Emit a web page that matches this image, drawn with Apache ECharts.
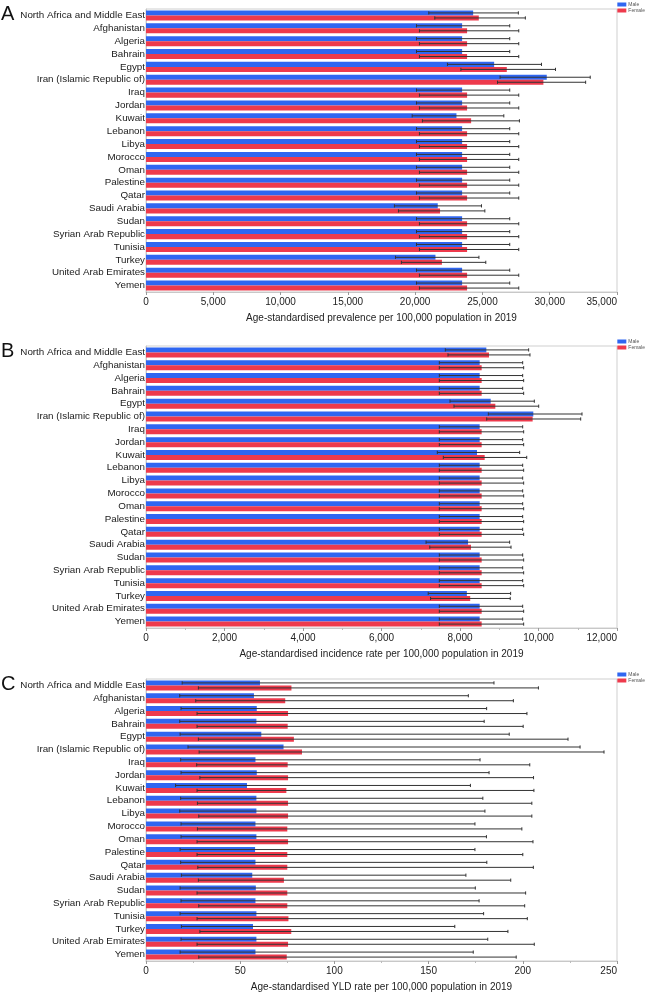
<!DOCTYPE html>
<html>
<head>
<meta charset="utf-8">
<script src="https://cdn.jsdelivr.net/npm/echarts@6/dist/echarts.min.js"></script>
<style>
html,body{margin:0;padding:0;background:#fff;}
#c{width:646px;height:993px;}
</style>
</head>
<body>
<div id="c"></div>
<script>
const categories = ["North Africa and Middle East","Afghanistan","Algeria","Bahrain","Egypt","Iran (Islamic Republic of)","Iraq","Jordan","Kuwait","Lebanon","Libya","Morocco","Oman","Palestine","Qatar","Saudi Arabia","Sudan","Syrian Arab Republic","Tunisia","Turkey","United Arab Emirates","Yemen"];

// Panel A: prevalence
const prevMale   = [24310,23490,23490,23490,25870,29780,23490,23490,23070,23490,23490,23490,23490,23490,23490,21680,23490,23490,23490,21510,23490,23490];
const prevMaleLo = [21015,20100,20100,20100,22400,26310,20100,20100,19780,20100,20100,20100,20100,20100,20100,18460,20100,20100,20100,18540,20100,20100];
const prevMaleHi = [27670,27030,27030,27030,29390,33010,27030,27030,26590,27030,27030,27030,27030,27030,27030,24930,27030,27030,27030,24740,27030,27030];
const prevFemale   = [24730,23860,23860,23860,26810,29530,23860,23860,24160,23860,23860,23860,23860,23860,23860,21850,23860,23860,23860,21990,23860,23860];
const prevFemaleLo = [21460,20320,20320,20320,23400,26120,20320,20320,20540,20320,20320,20320,20320,20320,20320,18760,20320,20320,20320,18980,20320,20320];
const prevFemaleHi = [28190,27700,27700,27700,30430,32670,27700,27700,27750,27700,27700,27700,27700,27700,27700,25180,27700,27700,27700,25250,27700,27700];

// Panel B: incidence
const incMale   = [8671,8501,8501,8501,8782,9868,8501,8501,8433,8501,8501,8501,8501,8501,8501,8205,8501,8501,8501,8175,8501,8501];
const incMaleLo = [7626,7473,7473,7473,7745,8722,7473,7473,7422,7473,7473,7473,7473,7473,7473,7135,7473,7473,7473,7190,7473,7473];
const incMaleHi = [9749,9597,9597,9597,9894,11108,9597,9597,9520,9597,9597,9597,9597,9597,9597,9265,9597,9597,9597,9290,9597,9597];
const incFemale   = [8739,8552,8552,8552,8900,9851,8552,8552,8629,8552,8552,8552,8552,8552,8552,8280,8552,8552,8552,8260,8552,8552];
const incFemaleLo = [7694,7473,7473,7473,7847,8680,7473,7473,7575,7473,7473,7473,7473,7473,7473,7230,7473,7473,7473,7250,7473,7473];
const incFemaleHi = [9783,9622,9622,9622,10005,11075,9622,9622,9700,9622,9622,9622,9622,9622,9622,9300,9622,9622,9622,9280,9622,9622];

// Panel C: YLD rate
const yldMale   = [60.5,57.3,58.8,58.6,61.2,73.0,58.1,58.8,53.6,58.6,58.6,58.1,58.6,57.9,58.1,56.4,58.3,58.1,58.6,56.8,58.6,58.1];
const yldMaleLo = [19.2,17.9,18.6,17.9,18.1,22.3,18.4,18.6,15.7,18.4,17.9,18.6,18.6,18.1,18.4,18.8,18.1,18.6,18.1,18.8,18.6,18.1];
const yldMaleHi = [184.7,171.1,180.8,179.5,192.8,230.4,177.3,182.1,172.2,178.8,179.9,174.6,180.7,174.6,180.9,169.8,174.8,176.8,179.2,163.9,181.4,173.7];
const yldFemale   = [77.2,73.9,75.4,75.2,78.5,82.8,75.2,75.4,74.5,75.4,75.4,75.0,75.4,75.0,75.0,73.2,75.0,75.0,75.6,77.1,75.4,74.7];
const yldFemaleLo = [27.8,26.4,27.1,27.1,27.8,28.2,26.9,28.6,27.1,27.3,28.0,27.3,27.1,27.1,27.5,27.8,27.1,28.0,27.1,28.6,27.1,28.0];
const yldFemaleHi = [208.3,195.0,202.2,200.2,224.0,243.1,203.7,205.7,205.9,204.8,204.8,199.5,205.4,200.0,205.6,193.6,201.5,201.0,202.4,192.1,206.1,196.5];

const axisTitles = [
  "Age-standardised prevalence per 100,000 population in 2019",
  "Age-standardised incidence rate per 100,000 population in 2019",
  "Age-standardised YLD rate per 100,000 population in 2019"
];
const xMax = [35000, 12000, 250];
const xInterval = [5000, 2000, 50];
const panelLetters = ["A","B","C"];

const panels = [
  {male: prevMale, maleLo: prevMaleLo, maleHi: prevMaleHi, female: prevFemale, femaleLo: prevFemaleLo, femaleHi: prevFemaleHi},
  {male: incMale, maleLo: incMaleLo, maleHi: incMaleHi, female: incFemale, femaleLo: incFemaleLo, femaleHi: incFemaleHi},
  {male: yldMale, maleLo: yldMaleLo, maleHi: yldMaleHi, female: yldFemale, femaleLo: yldFemaleLo, femaleHi: yldFemaleHi}
];

const gridTops = [9, 346, 679];
const gridHeights = [283, 282, 283];
const letterTops = [4, 341, 674];
const legendTops = [2, 339, 672];
const CAT_GAP = 0.22;
const FONT = "'Liberation Sans',Arial,sans-serif";
const BLUE = '#2f66f1';
const RED = '#ee3a4c';

function errRender(sign) {
  return function (params, api) {
    const lo = api.value(0), hi = api.value(1), idx = api.value(2);
    const p1 = api.coord([lo, idx]);
    const p2 = api.coord([hi, idx]);
    const band = api.size([0, 1])[1];
    const barW = band * (1 - CAT_GAP) / 2;
    const y = p1[1] + sign * barW / 2;
    const cap = 1.6;
    const style = {stroke: '#333', lineWidth: 1};
    return {
      type: 'group',
      children: [
        {type: 'line', shape: {x1: p1[0], y1: y, x2: p2[0], y2: y}, style: style},
        {type: 'line', shape: {x1: p1[0], y1: y - cap, x2: p1[0], y2: y + cap}, style: style},
        {type: 'line', shape: {x1: p2[0], y1: y - cap, x2: p2[0], y2: y + cap}, style: style}
      ]
    };
  };
}

const grid = [], xAxis = [], yAxis = [], series = [], legend = [], graphic = [];
panels.forEach((p, i) => {
  grid.push({left: 146, right: 29, top: gridTops[i], height: gridHeights[i], show: true, borderColor: '#cfcfcf', borderWidth: 1, containLabel: false});
  xAxis.push({
    type: 'value', gridIndex: i, min: 0, max: xMax[i], interval: xInterval[i],
    name: axisTitles[i], nameLocation: 'middle', nameGap: 21,
    nameTextStyle: {fontFamily: FONT, fontSize: 10, color: '#222'},
    splitLine: {show: false},
    axisLine: {show: true, lineStyle: {color: '#c8c8c8'}},
    axisTick: {show: true, length: 3, lineStyle: {color: '#999'}},
    minorTick: {show: i > 0, splitNumber: 2, length: 2, lineStyle: {color: '#bbb'}},
    axisLabel: {fontFamily: FONT, fontSize: 10, color: '#222', margin: 5, alignMaxLabel: 'right',
      formatter: v => v.toLocaleString('en-US')}
  });
  yAxis.push({
    type: 'category', gridIndex: i, data: categories, inverse: true,
    axisTick: {show: false},
    axisLine: {show: true, lineStyle: {color: '#c8c8c8'}},
    axisLabel: {interval: 0, fontFamily: FONT, fontSize: 9.8, color: '#1a1a1a', margin: 1}
  });
  series.push({name: 'Male', type: 'bar', xAxisIndex: i, yAxisIndex: i, data: p.male,
    barGap: '0%', barCategoryGap: (CAT_GAP * 100) + '%', itemStyle: {color: BLUE}, z: 2});
  series.push({name: 'Female', type: 'bar', xAxisIndex: i, yAxisIndex: i, data: p.female,
    barGap: '0%', barCategoryGap: (CAT_GAP * 100) + '%', itemStyle: {color: RED}, z: 2});
  series.push({name: 'MaleErr', type: 'custom', xAxisIndex: i, yAxisIndex: i,
    data: p.maleLo.map((v, k) => [v, p.maleHi[k], k]), encode: {x: [0, 1], y: 2},
    renderItem: errRender(-1), z: 5, silent: true});
  series.push({name: 'FemaleErr', type: 'custom', xAxisIndex: i, yAxisIndex: i,
    data: p.femaleLo.map((v, k) => [v, p.femaleHi[k], k]), encode: {x: [0, 1], y: 2},
    renderItem: errRender(1), z: 5, silent: true});
  legend.push({data: ['Male', 'Female'], orient: 'vertical', right: 1, top: legendTops[i],
    icon: 'rect', itemWidth: 9, itemHeight: 4, itemGap: 1, padding: 0,
    textStyle: {fontSize: 5, color: '#555', padding: [0, 0, 0, -3]}, selectedMode: false});
  graphic.push({type: 'text', left: 1, top: letterTops[i],
    style: {text: panelLetters[i], fontSize: 20, fontFamily: FONT, fill: '#111'}});
});

const chart = echarts.init(document.getElementById('c'), null, {renderer: 'canvas'});
chart.setOption({
  animation: false,
  backgroundColor: '#fff',
  grid, xAxis, yAxis, series, legend, graphic
});
</script>
</body>
</html>
